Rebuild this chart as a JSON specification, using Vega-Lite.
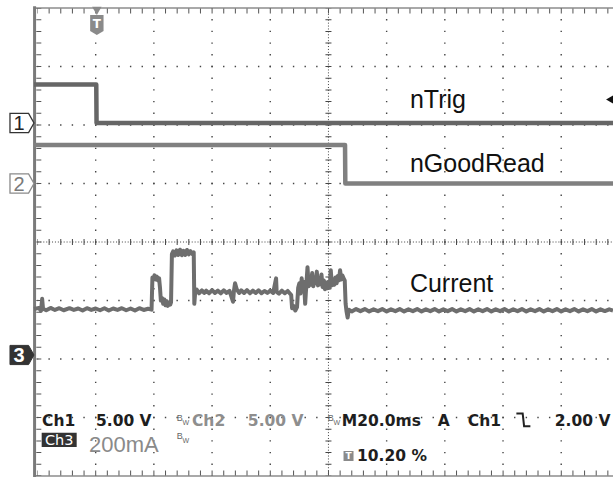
{
  "$schema": "https://vega.github.io/schema/vega-lite/v6.json",
  "width": 579,
  "height": 468,
  "padding": {"left": 34, "top": 8, "right": 0, "bottom": 1},
  "autosize": {"type": "none"},
  "background": "white",
  "config": {"view": {"stroke": null}},
  "datasets": {
    "vgrid": [{"t": 20}, {"t": 40}, {"t": 60}, {"t": 80}, {"t": 120}, {"t": 140}, {"t": 160}, {"t": 180}],
    "hgrid": [{"d": -3}, {"d": -2}, {"d": -1}, {"d": 1}, {"d": 2}, {"d": 3}],
    "frame": [{"d": 4}, {"d": -4}],
    "frameticks": [{"d": 3.95}, {"d": -3.95}],
    "center": [{"t": 100, "d": 0}],
    "leftborder": [{"t": -1.0}],
    "leftticks": [{"t": 0.45}],
    "dark": [
      {"t": 1.55, "d": -3.145, "label": "Ch1"},
      {"t": 20.1, "d": -3.145, "label": "5.00 V"},
      {"t": 104.6, "d": -3.145, "label": "M20.0ms"},
      {"t": 137.6, "d": -3.145, "label": "A"},
      {"t": 147.9, "d": -3.145, "label": "Ch1"},
      {"t": 177.8, "d": -3.145, "label": "2.00 V"},
      {"t": 109.8, "d": -3.752, "label": "10.20 %"}
    ],
    "gray": [
      {"t": 53.1, "d": -3.145, "label": "Ch2"},
      {"t": 72.3, "d": -3.145, "label": "5.00 V"}
    ],
    "bwb": [
      {"t": 47.9, "d": -3.06, "label": "B"},
      {"t": 99.8, "d": -3.06, "label": "B"},
      {"t": 47.9, "d": -3.36, "label": "B"}
    ],
    "bww": [
      {"t": 49.8, "d": -3.13, "label": "W"},
      {"t": 101.7, "d": -3.13, "label": "W"},
      {"t": 49.8, "d": -3.43, "label": "W"}
    ],
    "names": [
      {"t": 128.0, "d": 2.285, "label": "nTrig"},
      {"t": 128.0, "d": 1.202, "label": "nGoodRead"},
      {"t": 128.0, "d": -0.855, "label": "Current"}
    ],
    "ch1": [
      {"t": -1.2, "v": 3.3}, {"t": 20.2, "v": 3.3}, {"t": 20.3, "v": 0}, {"t": 197.8, "v": 0}
    ],
    "ch2": [
      {"t": -1.2, "v": 3.3}, {"t": 105.7, "v": 3.3}, {"t": 105.8, "v": 0}, {"t": 197.8, "v": 0}
    ],
    "ch3": [
      {"t": -1.2, "ma": 157}, {"t": 0.5, "ma": 161}, {"t": 1.2, "ma": 151}, {"t": 1.6, "ma": 192},
      {"t": 1.9, "ma": 158}, {"t": 3, "ma": 153}, {"t": 4.5, "ma": 161}, {"t": 6, "ma": 154},
      {"t": 7.5, "ma": 160}, {"t": 9, "ma": 153}, {"t": 11, "ma": 160}, {"t": 12.5, "ma": 154},
      {"t": 14, "ma": 159}, {"t": 15.5, "ma": 152}, {"t": 17, "ma": 160}, {"t": 18.5, "ma": 154},
      {"t": 20, "ma": 159}, {"t": 21.5, "ma": 153}, {"t": 23, "ma": 160}, {"t": 24.5, "ma": 152},
      {"t": 26, "ma": 159}, {"t": 27.5, "ma": 154}, {"t": 29, "ma": 160}, {"t": 30.5, "ma": 153},
      {"t": 32, "ma": 159}, {"t": 33.5, "ma": 152}, {"t": 35, "ma": 160}, {"t": 36.5, "ma": 154},
      {"t": 38, "ma": 158}, {"t": 39.2, "ma": 155},
      {"t": 39.5, "ma": 265}, {"t": 39.8, "ma": 262}, {"t": 40.2, "ma": 272}, {"t": 40.6, "ma": 258},
      {"t": 41.0, "ma": 268}, {"t": 41.4, "ma": 255}, {"t": 41.8, "ma": 262}, {"t": 42.1, "ma": 230},
      {"t": 42.4, "ma": 186}, {"t": 42.8, "ma": 195}, {"t": 43.2, "ma": 175}, {"t": 43.6, "ma": 190},
      {"t": 44.0, "ma": 170}, {"t": 44.4, "ma": 184}, {"t": 44.8, "ma": 168}, {"t": 45.2, "ma": 178},
      {"t": 45.6, "ma": 172}, {"t": 45.9, "ma": 180},
      {"t": 46.2, "ma": 345}, {"t": 46.6, "ma": 354}, {"t": 47.2, "ma": 340}, {"t": 47.8, "ma": 358},
      {"t": 48.4, "ma": 342}, {"t": 49.0, "ma": 360}, {"t": 49.6, "ma": 341}, {"t": 50.2, "ma": 356},
      {"t": 50.8, "ma": 342}, {"t": 51.4, "ma": 359}, {"t": 52.0, "ma": 344}, {"t": 52.6, "ma": 355},
      {"t": 53.2, "ma": 345}, {"t": 53.7, "ma": 351},
      {"t": 53.9, "ma": 175}, {"t": 54.2, "ma": 215}, {"t": 54.7, "ma": 224}, {"t": 55.5, "ma": 211},
      {"t": 56.5, "ma": 221}, {"t": 57.3, "ma": 212}, {"t": 58, "ma": 220}, {"t": 59, "ma": 211},
      {"t": 60, "ma": 222}, {"t": 61, "ma": 212}, {"t": 62, "ma": 220}, {"t": 63, "ma": 211},
      {"t": 64, "ma": 221}, {"t": 65, "ma": 212}, {"t": 66, "ma": 219}, {"t": 67.2, "ma": 182},
      {"t": 67.5, "ma": 218}, {"t": 67.9, "ma": 245}, {"t": 68.5, "ma": 224}, {"t": 69.3, "ma": 212},
      {"t": 70, "ma": 221}, {"t": 71, "ma": 212}, {"t": 72, "ma": 222}, {"t": 73, "ma": 211},
      {"t": 74, "ma": 220}, {"t": 75, "ma": 212}, {"t": 76, "ma": 221}, {"t": 77, "ma": 211},
      {"t": 78, "ma": 219}, {"t": 79, "ma": 212}, {"t": 80, "ma": 220}, {"t": 81, "ma": 212},
      {"t": 82.0, "ma": 262}, {"t": 82.2, "ma": 216}, {"t": 83, "ma": 210}, {"t": 84, "ma": 220},
      {"t": 85, "ma": 211}, {"t": 86, "ma": 219},
      {"t": 87.2, "ma": 205}, {"t": 87.5, "ma": 160}, {"t": 88.0, "ma": 168}, {"t": 88.6, "ma": 152},
      {"t": 89.2, "ma": 164}, {"t": 89.6, "ma": 230}, {"t": 90.0, "ma": 245}, {"t": 90.4, "ma": 210},
      {"t": 90.8, "ma": 262}, {"t": 91.2, "ma": 225}, {"t": 91.6, "ma": 250}, {"t": 92.0, "ma": 175},
      {"t": 92.4, "ma": 240}, {"t": 92.8, "ma": 300}, {"t": 93.2, "ma": 235}, {"t": 93.6, "ma": 265},
      {"t": 94.0, "ma": 240}, {"t": 94.4, "ma": 280}, {"t": 94.8, "ma": 235}, {"t": 95.2, "ma": 262},
      {"t": 95.6, "ma": 245}, {"t": 96.0, "ma": 285}, {"t": 96.4, "ma": 238}, {"t": 96.8, "ma": 258},
      {"t": 97.2, "ma": 242}, {"t": 97.6, "ma": 275}, {"t": 98.0, "ma": 232}, {"t": 98.4, "ma": 255},
      {"t": 98.8, "ma": 225}, {"t": 99.2, "ma": 248}, {"t": 99.6, "ma": 228}, {"t": 100.0, "ma": 250},
      {"t": 100.4, "ma": 230}, {"t": 100.8, "ma": 290}, {"t": 101.2, "ma": 238}, {"t": 101.6, "ma": 252},
      {"t": 102.0, "ma": 240}, {"t": 102.4, "ma": 265}, {"t": 102.8, "ma": 245}, {"t": 103.2, "ma": 270},
      {"t": 103.6, "ma": 255}, {"t": 104.0, "ma": 290}, {"t": 104.4, "ma": 258}, {"t": 104.8, "ma": 272},
      {"t": 105.2, "ma": 262}, {"t": 105.6, "ma": 255}, {"t": 105.9, "ma": 175}, {"t": 106.2, "ma": 150},
      {"t": 106.6, "ma": 128}, {"t": 107.0, "ma": 155}, {"t": 108, "ma": 149}, {"t": 109.5, "ma": 157},
      {"t": 111, "ma": 150}, {"t": 112.5, "ma": 157}, {"t": 114, "ma": 149}, {"t": 115.5, "ma": 156},
      {"t": 117, "ma": 150}, {"t": 118.5, "ma": 157}, {"t": 120, "ma": 149}, {"t": 121.5, "ma": 156},
      {"t": 123, "ma": 150}, {"t": 124.5, "ma": 157}, {"t": 126, "ma": 149}, {"t": 127.5, "ma": 156},
      {"t": 129, "ma": 150}, {"t": 130.5, "ma": 157}, {"t": 132, "ma": 149}, {"t": 133.5, "ma": 156},
      {"t": 135, "ma": 150}, {"t": 136.5, "ma": 157}, {"t": 138, "ma": 149}, {"t": 139.5, "ma": 156},
      {"t": 141, "ma": 150}, {"t": 142.5, "ma": 157}, {"t": 144, "ma": 149}, {"t": 145.5, "ma": 156},
      {"t": 147, "ma": 150}, {"t": 148.5, "ma": 157}, {"t": 150, "ma": 149}, {"t": 151.5, "ma": 156},
      {"t": 153, "ma": 150}, {"t": 154.5, "ma": 157}, {"t": 156, "ma": 149}, {"t": 157.5, "ma": 156},
      {"t": 159, "ma": 150}, {"t": 160.5, "ma": 157}, {"t": 162, "ma": 149}, {"t": 163.5, "ma": 156},
      {"t": 165, "ma": 150}, {"t": 166.5, "ma": 157}, {"t": 168, "ma": 149}, {"t": 169.5, "ma": 156},
      {"t": 171, "ma": 150}, {"t": 172.5, "ma": 157}, {"t": 174, "ma": 149}, {"t": 175.5, "ma": 156},
      {"t": 177, "ma": 150}, {"t": 178.5, "ma": 157}, {"t": 180, "ma": 149}, {"t": 181.5, "ma": 156},
      {"t": 183, "ma": 150}, {"t": 184.5, "ma": 157}, {"t": 186, "ma": 149}, {"t": 187.5, "ma": 156},
      {"t": 189, "ma": 150}, {"t": 190.5, "ma": 157}, {"t": 192, "ma": 149}, {"t": 193.5, "ma": 156},
      {"t": 195, "ma": 150}, {"t": 196.5, "ma": 156}, {"t": 197.8, "ma": 152}
    ]
  },
  "resolve": {"scale": {"y": "independent"}},
  "layer": [
    {
      "layer": [
        {
          "data": {"name": "vgrid"},
          "mark": {"type": "rule", "color": "#444", "strokeWidth": 1.4, "strokeDash": [1.4, 10.3], "strokeDashOffset": 0.7},
          "encoding": {
            "x": {"field": "t", "type": "quantitative", "scale": {"domain": [-1.2, 197.8], "nice": false, "zero": false}, "axis": null},
            "y": {"datum": 4, "type": "quantitative", "scale": {"domain": [-4, 4], "nice": false, "zero": false}, "axis": null},
            "y2": {"datum": -4}
          }
        },
        {
          "data": {"name": "hgrid"},
          "mark": {"type": "rule", "color": "#444", "strokeWidth": 1.4, "strokeDash": [1.4, 10.24], "strokeDashOffset": 0.7},
          "encoding": {
            "y": {"field": "d", "type": "quantitative", "scale": {"domain": [-4, 4], "nice": false, "zero": false}, "axis": null},
            "x": {"datum": 0, "type": "quantitative", "scale": {"domain": [-1.2, 197.8], "nice": false, "zero": false}, "axis": null},
            "x2": {"datum": 197.8}
          }
        },
        {
          "data": {"name": "center"},
          "mark": {"type": "rule", "color": "#444", "strokeWidth": 1, "strokeDash": [1, 1.91]},
          "encoding": {
            "y": {"field": "d", "type": "quantitative", "scale": {"domain": [-4, 4], "nice": false, "zero": false}, "axis": null},
            "x": {"datum": 0, "type": "quantitative", "scale": {"domain": [-1.2, 197.8], "nice": false, "zero": false}, "axis": null},
            "x2": {"datum": 197.8}
          }
        },
        {
          "data": {"name": "center"},
          "mark": {"type": "rule", "color": "#444", "strokeWidth": 6, "strokeDash": [1, 10.64], "strokeDashOffset": 0.5},
          "encoding": {
            "y": {"field": "d", "type": "quantitative", "scale": {"domain": [-4, 4], "nice": false, "zero": false}, "axis": null},
            "x": {"datum": 0, "type": "quantitative", "scale": {"domain": [-1.2, 197.8], "nice": false, "zero": false}, "axis": null},
            "x2": {"datum": 197.8}
          }
        },
        {
          "data": {"name": "center"},
          "mark": {"type": "rule", "color": "#444", "strokeWidth": 1, "strokeDash": [1, 1.925]},
          "encoding": {
            "x": {"field": "t", "type": "quantitative", "scale": {"domain": [-1.2, 197.8], "nice": false, "zero": false}, "axis": null},
            "y": {"datum": 4, "type": "quantitative", "scale": {"domain": [-4, 4], "nice": false, "zero": false}, "axis": null},
            "y2": {"datum": -4}
          }
        },
        {
          "data": {"name": "center"},
          "mark": {"type": "rule", "color": "#444", "strokeWidth": 6, "strokeDash": [1, 10.7], "strokeDashOffset": 0.5},
          "encoding": {
            "x": {"field": "t", "type": "quantitative", "scale": {"domain": [-1.2, 197.8], "nice": false, "zero": false}, "axis": null},
            "y": {"datum": 4, "type": "quantitative", "scale": {"domain": [-4, 4], "nice": false, "zero": false}, "axis": null},
            "y2": {"datum": -4}
          }
        },
        {
          "data": {"name": "frame"},
          "mark": {"type": "rule", "color": "#8c8c8c", "strokeWidth": 1.5},
          "encoding": {
            "y": {"field": "d", "type": "quantitative", "scale": {"domain": [-4, 4], "nice": false, "zero": false}, "axis": null},
            "x": {"datum": -1.2, "type": "quantitative", "scale": {"domain": [-1.2, 197.8], "nice": false, "zero": false}, "axis": null},
            "x2": {"datum": 197.8}
          }
        },
        {
          "data": {"name": "frameticks"},
          "mark": {"type": "rule", "color": "#555", "strokeWidth": 5, "strokeDash": [1, 10.64], "strokeDashOffset": 0.5},
          "encoding": {
            "y": {"field": "d", "type": "quantitative", "scale": {"domain": [-4, 4], "nice": false, "zero": false}, "axis": null},
            "x": {"datum": 0, "type": "quantitative", "scale": {"domain": [-1.2, 197.8], "nice": false, "zero": false}, "axis": null},
            "x2": {"datum": 197.8}
          }
        },
        {
          "data": {"name": "leftborder"},
          "mark": {"type": "rule", "color": "#7a7a7a", "strokeWidth": 3},
          "encoding": {
            "x": {"field": "t", "type": "quantitative", "scale": {"domain": [-1.2, 197.8], "nice": false, "zero": false}, "axis": null},
            "y": {"datum": 4.03, "type": "quantitative", "scale": {"domain": [-4, 4], "nice": false, "zero": false}, "axis": null},
            "y2": {"datum": -4.02}
          }
        },
        {
          "data": {"name": "leftticks"},
          "mark": {"type": "rule", "color": "#555", "strokeWidth": 5, "strokeDash": [1, 10.7], "strokeDashOffset": 0.5},
          "encoding": {
            "x": {"field": "t", "type": "quantitative", "scale": {"domain": [-1.2, 197.8], "nice": false, "zero": false}, "axis": null},
            "y": {"datum": 4, "type": "quantitative", "scale": {"domain": [-4, 4], "nice": false, "zero": false}, "axis": null},
            "y2": {"datum": -4}
          }
        },
        {
          "data": {"name": "names"},
          "mark": {"type": "text", "font": "Liberation Sans", "fontSize": 25, "color": "#111", "align": "left", "baseline": "alphabetic"},
          "encoding": {
            "x": {"field": "t", "type": "quantitative", "scale": {"domain": [-1.2, 197.8], "nice": false, "zero": false}, "axis": null},
            "y": {"field": "d", "type": "quantitative", "scale": {"domain": [-4, 4], "nice": false, "zero": false}, "axis": null},
            "text": {"field": "label"}
          }
        },
        {
          "data": {"name": "dark"},
          "mark": {"type": "text", "font": "DejaVu Sans", "fontSize": 15.5, "fontWeight": "bold", "color": "#1e1e1e", "align": "left", "baseline": "alphabetic"},
          "encoding": {
            "x": {"field": "t", "type": "quantitative", "scale": {"domain": [-1.2, 197.8], "nice": false, "zero": false}, "axis": null},
            "y": {"field": "d", "type": "quantitative", "scale": {"domain": [-4, 4], "nice": false, "zero": false}, "axis": null},
            "text": {"field": "label"}
          }
        },
        {
          "data": {"name": "gray"},
          "mark": {"type": "text", "font": "DejaVu Sans", "fontSize": 15.5, "fontWeight": "bold", "color": "#8e8e8e", "align": "left", "baseline": "alphabetic"},
          "encoding": {
            "x": {"field": "t", "type": "quantitative", "scale": {"domain": [-1.2, 197.8], "nice": false, "zero": false}, "axis": null},
            "y": {"field": "d", "type": "quantitative", "scale": {"domain": [-4, 4], "nice": false, "zero": false}, "axis": null},
            "text": {"field": "label"}
          }
        },
        {
          "data": {"name": "bwb"},
          "mark": {"type": "text", "font": "Liberation Sans", "fontSize": 9, "color": "#666", "align": "left", "baseline": "alphabetic"},
          "encoding": {
            "x": {"field": "t", "type": "quantitative", "scale": {"domain": [-1.2, 197.8], "nice": false, "zero": false}, "axis": null},
            "y": {"field": "d", "type": "quantitative", "scale": {"domain": [-4, 4], "nice": false, "zero": false}, "axis": null},
            "text": {"field": "label"}
          }
        },
        {
          "data": {"name": "bww"},
          "mark": {"type": "text", "font": "Liberation Sans", "fontSize": 7, "color": "#666", "align": "left", "baseline": "alphabetic"},
          "encoding": {
            "x": {"field": "t", "type": "quantitative", "scale": {"domain": [-1.2, 197.8], "nice": false, "zero": false}, "axis": null},
            "y": {"field": "d", "type": "quantitative", "scale": {"domain": [-4, 4], "nice": false, "zero": false}, "axis": null},
            "text": {"field": "label"}
          }
        },
        {
          "data": {"values": [{"t": 1.44, "t2": 13.47, "d": -3.26, "d2": -3.504}]},
          "mark": {"type": "rect", "color": "#333"},
          "encoding": {
            "x": {"field": "t", "type": "quantitative", "scale": {"domain": [-1.2, 197.8], "nice": false, "zero": false}, "axis": null},
            "x2": {"field": "t2"},
            "y": {"field": "d", "type": "quantitative", "scale": {"domain": [-4, 4], "nice": false, "zero": false}, "axis": null},
            "y2": {"field": "d2"}
          }
        },
        {
          "data": {"values": [{"t": 7.46, "d": -3.475, "label": "Ch3"}]},
          "mark": {"type": "text", "font": "DejaVu Sans", "fontSize": 14.5, "color": "white", "align": "center", "baseline": "alphabetic"},
          "encoding": {
            "x": {"field": "t", "type": "quantitative", "scale": {"domain": [-1.2, 197.8], "nice": false, "zero": false}, "axis": null},
            "y": {"field": "d", "type": "quantitative", "scale": {"domain": [-4, 4], "nice": false, "zero": false}, "axis": null},
            "text": {"field": "label"}
          }
        },
        {
          "data": {"values": [{"t": 17.7, "d": -3.59, "label": "200mA"}]},
          "mark": {"type": "text", "font": "Liberation Sans", "fontSize": 22, "color": "#8a8a8a", "align": "left", "baseline": "alphabetic"},
          "encoding": {
            "x": {"field": "t", "type": "quantitative", "scale": {"domain": [-1.2, 197.8], "nice": false, "zero": false}, "axis": null},
            "y": {"field": "d", "type": "quantitative", "scale": {"domain": [-4, 4], "nice": false, "zero": false}, "axis": null},
            "text": {"field": "label"}
          }
        },
        {
          "data": {"values": [{"t": 106.9, "d": -3.658}]},
          "mark": {"type": "point", "shape": "square", "size": 100, "filled": true, "color": "#8a8a8a", "opacity": 1},
          "encoding": {
            "x": {"field": "t", "type": "quantitative", "scale": {"domain": [-1.2, 197.8], "nice": false, "zero": false}, "axis": null},
            "y": {"field": "d", "type": "quantitative", "scale": {"domain": [-4, 4], "nice": false, "zero": false}, "axis": null}
          }
        },
        {
          "data": {"values": [{"t": 106.9, "d": -3.66, "label": "T"}]},
          "mark": {"type": "text", "font": "DejaVu Sans", "fontSize": 9, "fontWeight": "bold", "color": "white", "align": "center", "baseline": "middle"},
          "encoding": {
            "x": {"field": "t", "type": "quantitative", "scale": {"domain": [-1.2, 197.8], "nice": false, "zero": false}, "axis": null},
            "y": {"field": "d", "type": "quantitative", "scale": {"domain": [-4, 4], "nice": false, "zero": false}, "axis": null},
            "text": {"field": "label"}
          }
        },
        {
          "data": {"values": [{"t": 167.0, "d": -3.04}]},
          "mark": {"type": "point", "shape": "M-1,-0.9L-0.1,-0.9L0.1,0.9L1,0.9", "size": 196, "filled": false, "color": "#222", "strokeWidth": 2, "opacity": 1},
          "encoding": {
            "x": {"field": "t", "type": "quantitative", "scale": {"domain": [-1.2, 197.8], "nice": false, "zero": false}, "axis": null},
            "y": {"field": "d", "type": "quantitative", "scale": {"domain": [-4, 4], "nice": false, "zero": false}, "axis": null}
          }
        },
        {
          "data": {"values": [{"t": 20.4, "d": 3.95}]},
          "mark": {"type": "point", "shape": "triangle-down", "size": 90, "filled": true, "color": "#8a8a8a", "opacity": 1},
          "encoding": {
            "x": {"field": "t", "type": "quantitative", "scale": {"domain": [-1.2, 197.8], "nice": false, "zero": false}, "axis": null},
            "y": {"field": "d", "type": "quantitative", "scale": {"domain": [-4, 4], "nice": false, "zero": false}, "axis": null}
          }
        },
        {
          "data": {"values": [{"t": 20.4, "d": 3.709}]},
          "mark": {"type": "point", "shape": "M-0.67,-1L0.67,-1L0.67,0.6L0,1L-0.67,0.6Z", "size": 400, "filled": true, "color": "#8a8a8a", "opacity": 1},
          "encoding": {
            "x": {"field": "t", "type": "quantitative", "scale": {"domain": [-1.2, 197.8], "nice": false, "zero": false}, "axis": null},
            "y": {"field": "d", "type": "quantitative", "scale": {"domain": [-4, 4], "nice": false, "zero": false}, "axis": null}
          }
        },
        {
          "data": {"values": [{"t": 20.4, "d": 3.73, "label": "T"}]},
          "mark": {"type": "text", "font": "DejaVu Sans", "fontSize": 12, "fontWeight": "bold", "color": "white", "align": "center", "baseline": "middle"},
          "encoding": {
            "x": {"field": "t", "type": "quantitative", "scale": {"domain": [-1.2, 197.8], "nice": false, "zero": false}, "axis": null},
            "y": {"field": "d", "type": "quantitative", "scale": {"domain": [-4, 4], "nice": false, "zero": false}, "axis": null},
            "text": {"field": "label"}
          }
        }
      ]
    },
    {
      "layer": [
        {
          "data": {"name": "ch1"},
          "mark": {"type": "line", "color": "#666", "strokeWidth": 4.5, "strokeJoin": "round"},
          "encoding": {
            "x": {"field": "t", "type": "quantitative", "scale": {"domain": [-1.2, 197.8], "nice": false, "zero": false}, "axis": null},
            "y": {"field": "v", "type": "quantitative", "scale": {"domain": [-30.17, 9.83], "nice": false, "zero": false}, "axis": null}
          }
        },
        {
          "data": {"values": [{"t": -5.33, "v": 0}]},
          "mark": {"type": "point", "shape": "M-1,-0.8L0.55,-0.8L1,0L0.55,0.8L-1,0.8Z", "size": 576, "filled": true, "fill": "white", "stroke": "#333", "strokeWidth": 1.3, "opacity": 1},
          "encoding": {
            "x": {"field": "t", "type": "quantitative", "scale": {"domain": [-1.2, 197.8], "nice": false, "zero": false}, "axis": null},
            "y": {"field": "v", "type": "quantitative", "scale": {"domain": [-30.17, 9.83], "nice": false, "zero": false}, "axis": null}
          }
        },
        {
          "data": {"values": [{"t": -6.3, "v": 0, "label": "1"}]},
          "mark": {"type": "text", "font": "Liberation Sans", "fontSize": 20, "color": "#222", "align": "center", "baseline": "middle", "dy": 1},
          "encoding": {
            "x": {"field": "t", "type": "quantitative", "scale": {"domain": [-1.2, 197.8], "nice": false, "zero": false}, "axis": null},
            "y": {"field": "v", "type": "quantitative", "scale": {"domain": [-30.17, 9.83], "nice": false, "zero": false}, "axis": null},
            "text": {"field": "label"}
          }
        },
        {
          "data": {"values": [{"t": 197.3, "v": 2.0}]},
          "mark": {"type": "point", "shape": "triangle-left", "size": 160, "filled": true, "color": "#111", "opacity": 1},
          "encoding": {
            "x": {"field": "t", "type": "quantitative", "scale": {"domain": [-1.2, 197.8], "nice": false, "zero": false}, "axis": null},
            "y": {"field": "v", "type": "quantitative", "scale": {"domain": [-30.17, 9.83], "nice": false, "zero": false}, "axis": null}
          }
        }
      ]
    },
    {
      "layer": [
        {
          "data": {"name": "ch2"},
          "mark": {"type": "line", "color": "#808080", "strokeWidth": 4.5, "strokeJoin": "round"},
          "encoding": {
            "x": {"field": "t", "type": "quantitative", "scale": {"domain": [-1.2, 197.8], "nice": false, "zero": false}, "axis": null},
            "y": {"field": "v", "type": "quantitative", "scale": {"domain": [-25, 15], "nice": false, "zero": false}, "axis": null}
          }
        },
        {
          "data": {"values": [{"t": -5.33, "v": 0}]},
          "mark": {"type": "point", "shape": "M-1,-0.8L0.55,-0.8L1,0L0.55,0.8L-1,0.8Z", "size": 576, "filled": true, "fill": "white", "stroke": "#8a8a8a", "strokeWidth": 1.3, "opacity": 1},
          "encoding": {
            "x": {"field": "t", "type": "quantitative", "scale": {"domain": [-1.2, 197.8], "nice": false, "zero": false}, "axis": null},
            "y": {"field": "v", "type": "quantitative", "scale": {"domain": [-25, 15], "nice": false, "zero": false}, "axis": null}
          }
        },
        {
          "data": {"values": [{"t": -6.3, "v": 0, "label": "2"}]},
          "mark": {"type": "text", "font": "Liberation Sans", "fontSize": 20, "color": "#7a7a7a", "align": "center", "baseline": "middle", "dy": 1},
          "encoding": {
            "x": {"field": "t", "type": "quantitative", "scale": {"domain": [-1.2, 197.8], "nice": false, "zero": false}, "axis": null},
            "y": {"field": "v", "type": "quantitative", "scale": {"domain": [-25, 15], "nice": false, "zero": false}, "axis": null},
            "text": {"field": "label"}
          }
        }
      ]
    },
    {
      "layer": [
        {
          "data": {"name": "ch3"},
          "mark": {"type": "line", "color": "#6e6e6e", "strokeWidth": 4, "strokeJoin": "round"},
          "encoding": {
            "x": {"field": "t", "type": "quantitative", "scale": {"domain": [-1.2, 197.8], "nice": false, "zero": false}, "axis": null},
            "y": {"field": "ma", "type": "quantitative", "scale": {"domain": [-413.7, 1186.3], "nice": false, "zero": false}, "axis": null}
          }
        },
        {
          "data": {"values": [{"t": -5.33, "ma": 0}]},
          "mark": {"type": "point", "shape": "M-1,-0.8L0.55,-0.8L1,0L0.55,0.8L-1,0.8Z", "size": 576, "filled": true, "fill": "#333", "stroke": "#333", "strokeWidth": 1, "opacity": 1},
          "encoding": {
            "x": {"field": "t", "type": "quantitative", "scale": {"domain": [-1.2, 197.8], "nice": false, "zero": false}, "axis": null},
            "y": {"field": "ma", "type": "quantitative", "scale": {"domain": [-413.7, 1186.3], "nice": false, "zero": false}, "axis": null}
          }
        },
        {
          "data": {"values": [{"t": -6.3, "ma": 0, "label": "3"}]},
          "mark": {"type": "text", "font": "Liberation Sans", "fontSize": 20, "fontWeight": "bold", "color": "white", "align": "center", "baseline": "middle", "dy": 1},
          "encoding": {
            "x": {"field": "t", "type": "quantitative", "scale": {"domain": [-1.2, 197.8], "nice": false, "zero": false}, "axis": null},
            "y": {"field": "ma", "type": "quantitative", "scale": {"domain": [-413.7, 1186.3], "nice": false, "zero": false}, "axis": null},
            "text": {"field": "label"}
          }
        }
      ]
    }
  ]
}
